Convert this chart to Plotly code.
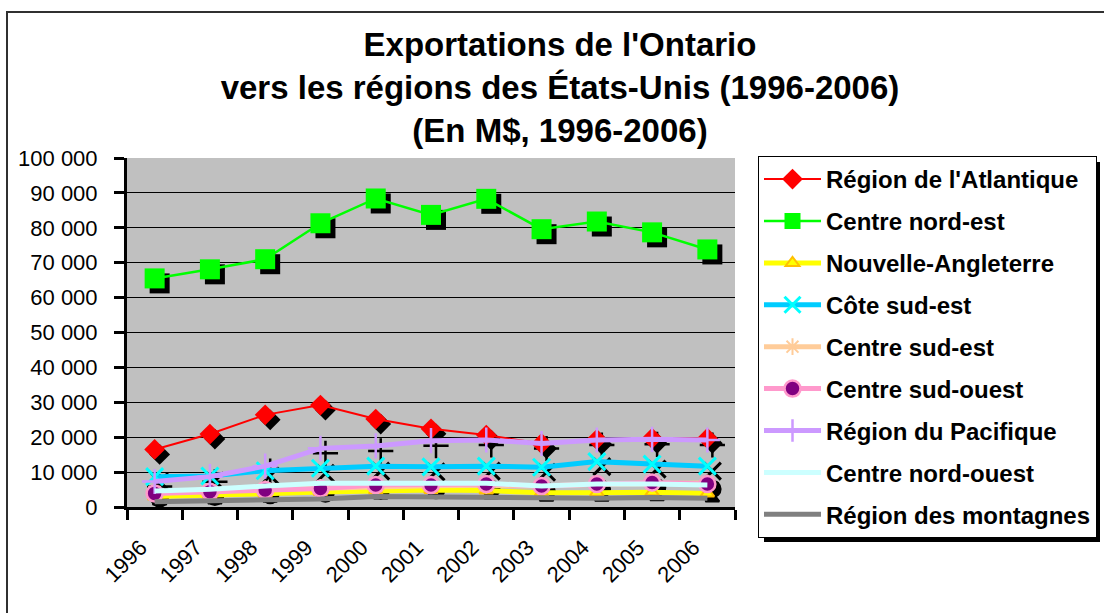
import plotly.graph_objects as go

# ---------------- data (M$) ----------------
years = ["1996", "1997", "1998", "1999", "2000", "2001", "2002", "2003", "2004", "2005", "2006"]

atlantique = [16500, 20900, 26400, 29200, 25200, 22400, 20600, 18200, 19400, 19700, 19700]
centre_nord_est = [65500, 68100, 71000, 81300, 88400, 83700, 88300, 79600, 81800, 78700, 73800]
nouvelle_angleterre = [3000, 3300, 3800, 4300, 4700, 4900, 4700, 4100, 4100, 4200, 3900]
cote_sud_est = [8700, 8900, 10400, 11100, 11700, 11500, 11700, 11400, 13000, 12300, 11700]
centre_sud_est = [4300, 4700, 5200, 5600, 6000, 6100, 6200, 6000, 6500, 6800, 6900]
centre_sud_ouest = [3900, 4400, 4900, 5300, 6300, 6300, 6600, 6000, 6600, 7000, 6600]
pacifique = [7300, 8700, 11700, 16800, 17500, 19000, 19200, 18200, 19200, 19400, 19200]
centre_nord_ouest = [4600, 5100, 6000, 6800, 6800, 6800, 6800, 6000, 6600, 6600, 6300]
montagnes = [1500, 1800, 2000, 2300, 3000, 2800, 2800, 2600, 2500, 2700, 2500]

y_ticks = [0, 10000, 20000, 30000, 40000, 50000, 60000, 70000, 80000, 90000, 100000]

# name, values, line colour, line width, marker symbol, marker fill, marker outline, marker size, outline width
series = [
    ("Région de l'Atlantique", atlantique, "#FF0000", 2, "diamond", "#FF0000", "#FF0000", 16, 0),
    ("Centre nord-est", centre_nord_est, "#00FF00", 2.5, "square", "#00FF00", "#00FF00", 20, 0),
    ("Nouvelle-Angleterre", nouvelle_angleterre, "#FFFF00", 5, "triangle-up", "#FFFF00", "#FFC000", 12, 2),
    ("Côte sud-est", cote_sud_est, "#00CCFF", 5, "x-thin-open", "#00FFFF", "#00FFFF", 17, 3),
    ("Centre sud-est", centre_sud_est, "#FFCC99", 5, "asterisk-open", "#FFCC99", "#FFCC99", 14, 2),
    ("Centre sud-ouest", centre_sud_ouest, "#FF99CC", 5, "circle", "#800080", "#FF99CC", 16, 2.5),
    ("Région du Pacifique", pacifique, "#CC99FF", 5, "cross-thin-open", "#CC99FF", "#CC99FF", 18, 2.5),
    ("Centre nord-ouest", centre_nord_ouest, "#CCFFFF", 5, None, None, None, 0, 0),
    ("Région des montagnes", montagnes, "#808080", 5, None, None, None, 0, 0),
]

W, H = 1104, 613
ml, mr, mt, mb = 127, 364, 150, 0
pw = W - ml - mr
ph = H - mt - mb
sh = 5  # shadow offset in px

# plot-area pixel box of the reference
PX0, PX1, PY0, PY1 = 127, 735, 158, 507


def px(x):
    return (x - ml) / pw


def py(y):
    return (H - mb - y) / ph


fig = go.Figure()

# shadow markers (on shifted axes "x"/"y", drawn first => underneath)
for name, vals, lc, lw, sym, mfill, mline, msize, mlw in series:
    if sym is None:
        continue
    fig.add_trace(go.Scatter(
        x=years, y=vals, mode="markers", xaxis="x", yaxis="y",
        showlegend=False, hoverinfo="skip", cliponaxis=False,
        marker=dict(symbol=sym, size=msize, color="black",
                    line=dict(color="black", width=mlw if mlw else 0)),
    ))

# real series
for name, vals, lc, lw, sym, mfill, mline, msize, mlw in series:
    if sym is None:
        mode = "lines"
        marker = None
    else:
        mode = "lines+markers"
        marker = dict(symbol=sym, size=msize, color=mfill,
                      line=dict(color=mline, width=mlw))
    fig.add_trace(go.Scatter(
        x=years, y=vals, name=name, mode=mode, xaxis="x2", yaxis="y2",
        legendgroup=name, cliponaxis=False,
        line=dict(color=lc, width=lw), marker=marker,
    ))

xd_real = [px(PX0), px(PX1)]
yd_real = [py(PY1), py(PY0)]
xd_sh = [px(PX0 + sh), px(PX1 + sh)]
yd_sh = [py(PY1 + sh), py(PY0 + sh)]

sans = "Liberation Sans, Arial, sans-serif"

fig.update_layout(
    width=W, height=H,
    margin=dict(l=ml, r=mr, t=mt, b=mb, autoexpand=False),
    paper_bgcolor="white",
    plot_bgcolor="rgba(0,0,0,0)",
    separators=", ",
    title=dict(
        text="Exportations de l'Ontario<br>vers les régions des États-Unis (1996-2006)<br>(En M$, 1996-2006)",
        x=560 / W, xanchor="center", xref="container",
        y=1 - 56 / H, yanchor="top", yref="container",
        font=dict(family=sans, size=33, color="black", weight="bold"),
    ),
    xaxis=dict(domain=xd_sh, anchor="y", type="category", range=[-0.5, 10.5],
               visible=False, showgrid=False),
    yaxis=dict(domain=yd_sh, anchor="x", range=[0, 100000], visible=False, showgrid=False),
    xaxis2=dict(domain=xd_real, anchor="y2", type="category", range=[-0.5, 10.5],
                showline=True, linecolor="black", linewidth=3,
                ticks="outside", tickson="boundaries", ticklen=10, tickwidth=3, tickcolor="black",
                tickangle=-45, showgrid=False,
                tickfont=dict(family=sans, size=22, color="black"),
                ticklabelstandoff=16, ticklabelshift=-14),
    yaxis2=dict(domain=yd_real, anchor="x2", range=[0, 100000],
                tickvals=y_ticks, tickformat=",d",
                showline=True, linecolor="black", linewidth=3,
                ticks="outside", ticklen=10, tickwidth=3, tickcolor="black",
                showgrid=True, gridcolor="black", gridwidth=1, zeroline=False,
                tickfont=dict(family=sans, size=22, color="black"),
                ticklabelstandoff=12),
    legend=dict(
        x=px(758), xanchor="left",
        y=py(156), yanchor="top",
        bgcolor="white", bordercolor="black", borderwidth=1,
        font=dict(family=sans, size=24, color="black", weight="bold"),
        tracegroupgap=7.7, traceorder="grouped", itemwidth=57,
    ),
    showlegend=True,
    shapes=[
        # plot area background
        dict(type="rect", xref="paper", yref="paper", x0=xd_real[0], x1=xd_real[1],
             y0=yd_real[0], y1=yd_real[1], fillcolor="#C0C0C0", line=dict(width=0), layer="below"),
        # outer chart border
        dict(type="rect", xref="paper", yref="paper",
             x0=px(7), x1=px(W + 20), y0=py(H + 20), y1=py(12),
             line=dict(color="#303030", width=2), fillcolor="rgba(0,0,0,0)", layer="below"),
        # legend shadow
        dict(type="rect", xref="paper", yref="paper",
             x0=px(764), x1=px(1100), y0=py(542), y1=py(162),
             fillcolor="black", line=dict(width=0), layer="above"),
    ],
)

fig.write_html("out.html", config={"displayModeBar": False},
               post_script="document.body.style.margin='0';")
